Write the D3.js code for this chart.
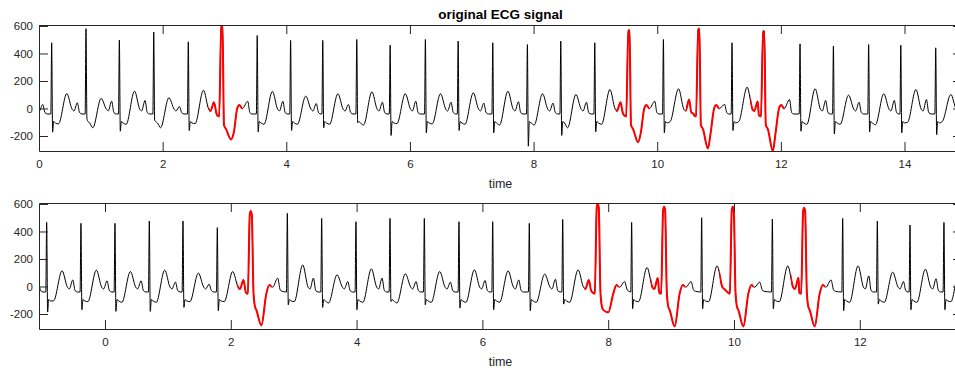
<!DOCTYPE html>
<html>
<head>
<meta charset="utf-8">
<script src="https://cdn.jsdelivr.net/npm/d3@7"></script>
<style>
  body { margin: 0; background: #fff; }
  svg text { font-family: "Liberation Sans", Arial, sans-serif; }
</style>
</head>
<body>
<svg id="chart" width="955" height="371"></svg>
<script>
// beats: [R time (s), kind N/V, R amp, S amp, trough, hump, bump]
const topBeats = [
  [-0.355, "N", 480, -170, -115, 100, 29],
  [0.205, "N", 478, -172, -112, 109, 41],
  [0.760, "N", 580, -70, -140, 73, 53],
  [1.300, "N", 497, -165, -115, 126, 58],
  [1.856, "N", 555, -85, -140, 78, 15],
  [2.415, "N", 485, -160, -110, 133, 46],
  [2.956, "V", 607, null, -225, null, 53],
  [3.530, "N", 531, -170, -115, 124, 53],
  [4.070, "N", 495, -160, -115, 90, 36],
  [4.590, "N", 495, -140, -115, 107, 29],
  [5.140, "N", 502, -104, -120, 121, 46],
  [5.680, "N", 460, -196, -110, 107, 53],
  [6.250, "N", 502, -177, -112, 107, 46],
  [6.780, "N", 490, -160, -115, 114, 39],
  [7.340, "N", 478, -177, -120, 126, 49],
  [7.900, "N", 465, -274, -120, 107, 39],
  [8.440, "N", 490, -196, -140, 102, 46],
  [8.990, "N", 478, -170, -115, 138, 46],
  [9.540, "V", 569, null, -245, null, 53],
  [10.100, "N", 502, -177, -95, 143, 65],
  [10.670, "V", 580, null, -290, null, 30],
  [11.210, "N", 478, -160, -95, 155, 50],
  [11.720, "V", 562, null, -309, null, 65],
  [12.310, "N", 470, -165, -115, 143, 58],
  [12.850, "N", 453, -185, -115, 97, 46],
  [13.420, "N", 465, -170, -118, 107, 58],
  [13.940, "N", 460, -177, -100, 138, 65],
  [14.505, "N", 441, -190, -92, 102, 50],
  [15.050, "N", 470, -170, -115, 100, 40]
];

const bottomBeats = [
  [-1.476, "N", 470, -180, -110, 110, 40],
  [-0.927, "N", 466, -186, -104, 114, 48],
  [-0.382, "N", 459, -169, -110, 119, 41],
  [0.159, "N", 459, -181, -115, 109, 41],
  [0.705, "N", 476, -181, -115, 119, 32],
  [1.240, "N", 476, -152, -110, 97, 17],
  [1.786, "N", 428, -176, -110, 109, 48],
  [2.316, "V", 548, null, -283, null, 61],
  [2.899, "N", 532, -133, -110, 157, 61],
  [3.445, "N", 495, -152, -120, 85, 36],
  [3.990, "N", 471, -169, -115, 128, 61],
  [4.531, "N", 495, -109, -120, 92, 36],
  [5.077, "N", 495, -133, -115, 109, 32],
  [5.628, "N", 471, -157, -115, 121, 44],
  [6.164, "N", 471, -169, -115, 114, 48],
  [6.746, "N", 459, -176, -115, 90, 53],
  [7.277, "N", 488, -128, -115, 121, 48],
  [7.832, "V", 600, null, -188, null, 36],
  [8.373, "N", 466, -162, -110, 138, 61],
  [8.887, "V", 580, null, -290, null, 36],
  [9.486, "N", 500, -162, -110, 150, 85],
  [9.979, "V", 580, null, -290, null, 32],
  [10.610, "N", 490, -162, -110, 150, 64],
  [11.113, "V", 572, null, -290, null, 48],
  [11.728, "N", 495, -176, -115, 150, 77],
  [12.279, "N", 476, -128, -115, 104, 36],
  [12.798, "N", 447, -169, -115, 126, 56],
  [13.338, "N", 466, -169, -110, 120, 50],
  [13.880, "N", 470, -170, -115, 110, 40]
];

// beat shapes: [seconds from R, beat field or null, added value]
const normalShape = [
  [-0.014, null, -40], [0, "r", 0], [0.015, "s", 0], [0.032, null, -95],
  [0.06, null, -105], [0.11, "tr", 0], [0.245, "h", 0], [0.33, null, -5],
  [0.36, null, -18], [0.415, "p", 0], [0.452, null, -30], [0.49, null, -40]
];
const pvcShapeTop = [
  [-0.075, null, -50], [-0.042, null, -58], [-0.008, "r", 0], [0.012, "r", 0],
  [0.036, null, -120], [0.07, null, -150], [0.15, "tr", 0], [0.195, null, -175],
  [0.25, null, 0], [0.285, null, 25], [0.335, null, 0], [0.42, "p", 0],
  [0.455, null, -30], [0.485, null, -40]
];
const pvcShapeBottom = [
  [-0.075, null, -45], [-0.045, null, -52], [-0.014, "r", -25], [0.002, "r", 0],
  [0.018, "r", -25], [0.045, null, -40], [0.068, null, -145], [0.09, null, -170],
  [0.17, "tr", 0], [0.25, null, -50], [0.30, null, 10], [0.35, null, -5],
  [0.43, "p", 0], [0.47, null, -25], [0.50, null, -35]
];
const pvcWindow = [-0.21, 0.335];

const xTicksTop = [0, 2, 4, 6, 8, 10, 12, 14];
const xTicksBottom = [0, 2, 4, 6, 8, 10, 12];
const yTicks = [-200, 0, 200, 400, 600];
const yDomain = [-309, 607];

const field = { r: 2, s: 3, tr: 4, h: 5, p: 6 };
const left = 39, right = 962;
const svg = d3.select("#chart");

function buildTrace(beats, pvcShape) {
  const shapeOf = b => b[1] === "V" ? pvcShape : normalShape;
  const pts = [];
  beats.forEach((b, i) => {
    const next = beats[i + 1];
    const limit = next ? next[0] + shapeOf(next)[0][0] - 0.003 : Infinity;
    shapeOf(b).forEach(([dt, key, add]) => {
      const t = b[0] + dt;
      if (t < limit) pts.push([t, (key ? b[field[key]] : 0) + add]);
    });
  });
  return pts;
}

function drawPanel(cfg) {
  const x = d3.scaleLinear().domain(cfg.xDomain).range([left, right]);
  const y = d3.scaleLinear().domain(yDomain).range([cfg.bottom, cfg.top]);
  const g = svg.append("g");

  g.append("clipPath").attr("id", cfg.id + "-clip")
    .append("rect")
    .attr("x", left).attr("y", cfg.top)
    .attr("width", right - left).attr("height", cfg.bottom - cfg.top);

  const redClip = g.append("clipPath").attr("id", cfg.id + "-red");
  cfg.beats.filter(b => b[1] === "V").forEach(b => {
    const x0 = x(b[0] + pvcWindow[0]), x1 = x(b[0] + pvcWindow[1]);
    redClip.append("rect")
      .attr("x", x0).attr("y", cfg.top - 5)
      .attr("width", x1 - x0).attr("height", cfg.bottom - cfg.top + 10);
  });

  const trace = buildTrace(cfg.beats, cfg.pvcShape);
  const line = d3.line()
    .x(d => x(d[0]))
    .y(d => y(d[1]))
    .curve(d3.curveMonotoneX);

  const plot = g.append("g").attr("clip-path", `url(#${cfg.id}-clip)`);
  plot.append("path")
    .datum(trace)
    .attr("d", line)
    .attr("fill", "none")
    .attr("stroke", "#000")
    .attr("stroke-width", 1);
  plot.append("g")
    .attr("clip-path", `url(#${cfg.id}-red)`)
    .append("path")
    .datum(trace)
    .attr("d", line)
    .attr("fill", "none")
    .attr("stroke", "#ff0000")
    .attr("stroke-width", 2)
    .attr("stroke-linejoin", "round");

  const fmt = d => String(d);
  const axes = [
    g.append("g").attr("transform", `translate(0,${cfg.bottom})`)
      .call(d3.axisBottom(x).tickValues(cfg.xTicks).tickSize(-9).tickSizeOuter(0).tickPadding(9).tickFormat(fmt)),
    g.append("g").attr("transform", `translate(0,${cfg.top})`)
      .call(d3.axisTop(x).tickValues(cfg.xTicks).tickSize(-9).tickSizeOuter(0).tickFormat("")),
    g.append("g").attr("transform", `translate(${left},0)`)
      .call(d3.axisLeft(y).tickValues(yTicks).tickSize(-9).tickSizeOuter(0).tickPadding(6).tickFormat(fmt)),
    g.append("g").attr("transform", `translate(${right},0)`)
      .call(d3.axisRight(y).tickValues(yTicks).tickSize(-9).tickSizeOuter(0).tickFormat(""))
  ];
  axes.forEach(a => a
    .attr("color", "#262626")
    .attr("font-size", 11.5)
    .attr("font-family", "'Liberation Sans', Arial, sans-serif"));

  g.append("text")
    .attr("x", (left + right) / 2)
    .attr("y", cfg.bottom + 36.5)
    .attr("text-anchor", "middle")
    .attr("font-size", 12.5)
    .attr("fill", "#262626")
    .text("time");

  if (cfg.title) {
    g.append("text")
      .attr("x", (left + right) / 2)
      .attr("y", cfg.top - 6)
      .attr("text-anchor", "middle")
      .attr("font-size", 13.5)
      .attr("font-weight", "bold")
      .attr("fill", "#000")
      .text(cfg.title);
  }
}

drawPanel({
  id: "top", beats: topBeats, pvcShape: pvcShapeTop,
  xDomain: [0, 14.93], xTicks: xTicksTop,
  top: 25, bottom: 151, title: "original ECG signal"
});
drawPanel({
  id: "bottom", beats: bottomBeats, pvcShape: pvcShapeBottom,
  xDomain: [-1.049, 13.625], xTicks: xTicksBottom,
  top: 203, bottom: 329
});
</script>
</body>
</html>
